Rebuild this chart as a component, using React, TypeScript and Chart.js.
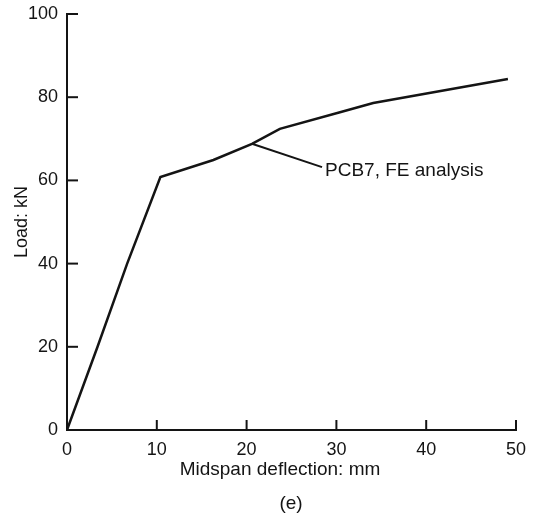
import React, { useEffect, useRef } from "react";
import { Chart, registerables } from "chart.js";

Chart.register(...registerables);

const deflection = [0, 3.4, 6.7, 10.4, 16.3, 20.6, 23.7, 30.4, 34.1, 49.1];
const load = [0, 20, 40, 60.8, 64.9, 68.8, 72.4, 76.4, 78.6, 84.4];
const xTicks = [0, 10, 20, 30, 40, 50];
const yTicks = [0, 20, 40, 60, 80, 100];
const xTitle = "Midspan deflection: mm";
const yTitle = "Load: kN";
const caption = "(e)";
const annotationText = "PCB7, FE analysis";
const annotationPoint = [20.6, 68.8];
const annotationEnd = [28.4, 63.2];

const INK = "#141414";
const FONT = "'Liberation Sans', Arial, sans-serif";

export default function App() {
  const ref = useRef<HTMLCanvasElement | null>(null);
  useEffect(() => {
    if (!ref.current) return;
    const overlay = {
      id: "overlay",
      afterDraw(chart: any) {
        const { ctx, scales } = chart;
        const xs = scales.x;
        const ys = scales.y;
        const area = chart.chartArea;
        ctx.save();
        ctx.strokeStyle = INK;
        ctx.lineWidth = 2;
        xTicks.forEach((v) => {
          const px = xs.getPixelForValue(v);
          if (v === 0) return;
          ctx.beginPath();
          ctx.moveTo(px, area.bottom);
          ctx.lineTo(px, area.bottom - 10);
          ctx.stroke();
        });
        yTicks.forEach((v) => {
          const py = ys.getPixelForValue(v);
          if (v === 0) return;
          ctx.beginPath();
          ctx.moveTo(area.left, py);
          ctx.lineTo(area.left + 11, py);
          ctx.stroke();
        });
        ctx.lineWidth = 2;
        ctx.beginPath();
        ctx.moveTo(xs.getPixelForValue(annotationPoint[0]), ys.getPixelForValue(annotationPoint[1]));
        ctx.lineTo(xs.getPixelForValue(annotationEnd[0]), ys.getPixelForValue(annotationEnd[1]));
        ctx.stroke();
        ctx.fillStyle = INK;
        ctx.font = `19px ${FONT}`;
        ctx.textAlign = "left";
        ctx.textBaseline = "middle";
        ctx.fillText(
          annotationText,
          xs.getPixelForValue(annotationEnd[0]) + 3,
          ys.getPixelForValue(annotationEnd[1]) + 4
        );
        ctx.textAlign = "center";
        ctx.fillText(xTitle, 280, 470);
        ctx.fillText(caption, 291, 504);
        ctx.font = `18px ${FONT}`;
        ctx.translate(22, (area.top + area.bottom) / 2);
        ctx.rotate(-Math.PI / 2);
        ctx.fillText(yTitle, 0, 0);
        ctx.restore();
      },
    };
    const chart = new Chart(ref.current, {
      type: "line",
      data: {
        datasets: [
          {
            data: deflection.map((x, i) => ({ x, y: load[i] })),
            borderColor: INK,
            borderWidth: 2.5,
            pointRadius: 0,
            tension: 0,
            fill: false,
          },
        ],
      },
      options: {
        animation: false,
        responsive: false,
        maintainAspectRatio: false,
        layout: { padding: { left: 0, right: 29, top: 14, bottom: 0 } },
        plugins: { legend: { display: false }, tooltip: { enabled: false } },
        scales: {
          x: {
            type: "linear",
            min: 0,
            max: 50,
            afterFit: (s: any) => {
              s.height = 84;
              s.paddingLeft = 0;
              s.paddingRight = 0;
            },
            afterBuildTicks: (s: any) => {
              s.ticks = xTicks.map((v) => ({ value: v }));
            },
            grid: { display: false, drawTicks: false },
            border: { display: true, color: INK, width: 2 },
            ticks: { color: INK, font: { family: FONT, size: 18 }, padding: 9, maxRotation: 0, autoSkip: false },
          },
          y: {
            type: "linear",
            min: 0,
            max: 100,
            afterFit: (s: any) => {
              s.width = 67;
              s.paddingTop = 0;
              s.paddingBottom = 0;
            },
            afterBuildTicks: (s: any) => {
              s.ticks = yTicks.map((v) => ({ value: v }));
            },
            grid: { display: false, drawTicks: false },
            border: { display: true, color: INK, width: 2 },
            ticks: { color: INK, font: { family: FONT, size: 18 }, padding: 9, autoSkip: false },
          },
        },
      },
      plugins: [overlay],
    });
    return () => chart.destroy();
  }, []);
  return (
    <div style={{ position: "fixed", left: 0, top: 0, width: 545, height: 514, background: "#fff" }}>
      <canvas ref={ref} width={545} height={514} style={{ width: 545, height: 514 }} />
    </div>
  );
}
